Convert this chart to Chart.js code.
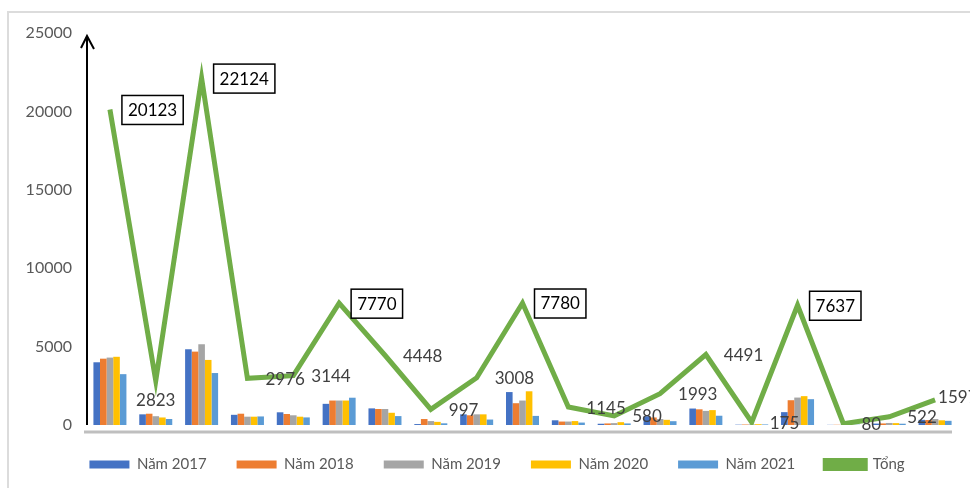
<!DOCTYPE html>
<html>
<head>
<meta charset="utf-8">
<script src="https://cdn.jsdelivr.net/npm/chart.js@4.4.1/dist/chart.umd.min.js"></script>
<style>
    html, body { margin: 0; padding: 0; background: #fff; }
    #wrap { width: 970px; height: 488px; position: relative; }
</style>
</head>
<body>
<div id="wrap"><canvas id="myChart" width="970" height="488"></canvas></div>
<script>
// du lieu doc tu hinh
const categories = ['1', '2', '3', '4', '5', '6', '7', '8', '9', '10', '11', '12', '13', '14', '15', '16', '17', '18', '19'];
const nam2017 = [4000, 680, 4830, 650, 810, 1350, 1060, 60, 680, 2100, 300, 80, 560, 1050, 20, 820, 10, 90, 330];
const nam2018 = [4230, 720, 4680, 720, 700, 1560, 1020, 380, 620, 1390, 220, 100, 480, 1000, 30, 1580, 15, 100, 320];
const nam2019 = [4300, 560, 5150, 530, 620, 1560, 1020, 250, 680, 1560, 220, 120, 380, 900, 40, 1750, 20, 130, 380];
const nam2020 = [4350, 480, 4150, 530, 530, 1560, 780, 200, 680, 2150, 250, 180, 330, 950, 50, 1840, 20, 120, 300];
const nam2021 = [3243, 383, 3314, 546, 484, 1740, 568, 107, 348, 580, 155, 100, 243, 591, 35, 1647, 15, 82, 267];
const tong = [20123, 2823, 22124, 2976, 3144, 7770, 4448, 997, 3008, 7780, 1145, 580, 1993, 4491, 175, 7637, 80, 522, 1597];
const yTicks = [0, 5000, 10000, 15000, 20000, 25000];

const FONT = 'Lato, "Liberation Sans", sans-serif';

// khung, truc y co mui ten, truc x mau xam
const axesPlugin = {
    id: 'axesPlugin',
    afterLayout(chart) {
        // doi chu thich sang phai mot chut
        const lg = chart.legend;
        lg.left += 18;
        lg.right += 18;
        lg.top += 2;
        lg.bottom += 2;
    },
    beforeDraw(chart) {
        const ctx = chart.ctx;
        ctx.save();
        ctx.strokeStyle = '#dcdcdc';
        ctx.lineWidth = 2;
        ctx.beginPath();
        ctx.moveTo(8, 488);
        ctx.lineTo(8, 12);
        ctx.lineTo(970, 12);
        ctx.stroke();
        ctx.restore();
    },
    afterDraw(chart) {
        const ctx = chart.ctx;
        const a = chart.chartArea;
        ctx.save();
        ctx.strokeStyle = '#bfbfbf';
        ctx.lineWidth = 3;
        ctx.beginPath();
        ctx.moveTo(a.left - 3, a.bottom + 7);
        ctx.lineTo(a.right - 6, a.bottom + 7);
        ctx.stroke();

        ctx.strokeStyle = '#000';
        ctx.lineWidth = 2;
        ctx.beginPath();
        ctx.moveTo(a.left, a.bottom);
        ctx.lineTo(a.left, a.top + 3);
        ctx.stroke();
        ctx.beginPath();
        ctx.moveTo(a.left - 6, a.top + 15);
        ctx.lineTo(a.left, a.top + 3);
        ctx.lineTo(a.left + 7, a.top + 16);
        ctx.stroke();
        ctx.restore();
    }
};

// nhan so lieu cua duong Tong
const labelPlugin = {
    id: 'labelPlugin',
    afterDatasetsDraw(chart) {
        const ctx = chart.ctx;
        const idx = chart.data.datasets.findIndex(d => d.type === 'line');
        const meta = chart.getDatasetMeta(idx);
        const vals = chart.data.datasets[idx].data;
        ctx.save();
        ctx.font = '17px ' + FONT;
        ctx.textBaseline = 'middle';
        meta.data.forEach((pt, i) => {
            const txt = String(vals[i]);
            let x = pt.x + 18;
            let y = pt.y;
            ctx.textAlign = 'left';
            if (i === 1) {           // nhan nam duoi diem
                ctx.textAlign = 'center';
                x = pt.x;
                y = pt.y + 19;
            } else if (i === vals.length - 1) {
                x = pt.x + 3;
                y = pt.y - 3;
            }
            if (vals[i] > 7000) {
                const w = ctx.measureText(txt).width + 12;
                ctx.fillStyle = '#fff';
                ctx.fillRect(x - 6, y - 14, w, 29);
                ctx.strokeStyle = '#000';
                ctx.lineWidth = 1.5;
                ctx.strokeRect(x - 6, y - 14, w, 29);
                ctx.fillStyle = '#000';
            } else {
                ctx.fillStyle = '#404040';
            }
            ctx.fillText(txt, x, y + 1);
        });
        ctx.restore();
    }
};

const ctx = document.getElementById('myChart');

new Chart(ctx, {
    type: 'bar',
    data: {
        labels: categories,
        datasets: [
            { label: 'Năm 2017', data: nam2017, backgroundColor: '#4472C4', order: 2 },
            { label: 'Năm 2018', data: nam2018, backgroundColor: '#ED7D31', order: 2 },
            { label: 'Năm 2019', data: nam2019, backgroundColor: '#A5A5A5', order: 2 },
            { label: 'Năm 2020', data: nam2020, backgroundColor: '#FFC000', order: 2 },
            { label: 'Năm 2021', data: nam2021, backgroundColor: '#5B9BD5', order: 2 },
            {
                type: 'line',
                label: 'Tổng',
                data: tong,
                borderColor: '#70AD47',
                backgroundColor: '#70AD47',
                borderWidth: 5,
                pointRadius: 0,
                tension: 0,
                order: 1
            }
        ]
    },
    options: {
        responsive: false,
        animation: false,
        devicePixelRatio: 1,
        layout: {
            padding: { top: 33, right: 12, bottom: 8, left: 0 }
        },
        datasets: {
            bar: {
                categoryPercentage: 0.72,
                barPercentage: 1
            }
        },
        plugins: {
            legend: {
                position: 'bottom',
                labels: {
                    boxWidth: 40,
                    boxHeight: 8,
                    padding: 30,
                    color: '#595959',
                    font: { family: FONT, size: 15 },
                    sort: (a, b) => a.datasetIndex - b.datasetIndex
                }
            },
            tooltip: { enabled: false }
        },
        scales: {
            x: {
                grid: { display: false },
                border: { display: false },
                ticks: { display: false },
                afterFit(scale) { scale.height = 0; }
            },
            y: {
                min: 0,
                max: 25000,
                afterBuildTicks(scale) { scale.ticks = yTicks.map(v => ({ value: v })); },
                grid: { display: false, drawTicks: false },
                border: { display: false },
                ticks: {
                    padding: 15,
                    color: '#595959',
                    font: { family: FONT, size: 16 },
                    callback: v => String(v)
                },
                afterFit(scale) { scale.width = 87; }
            }
        }
    },
    plugins: [axesPlugin, labelPlugin]
});
</script>
</body>
</html>
